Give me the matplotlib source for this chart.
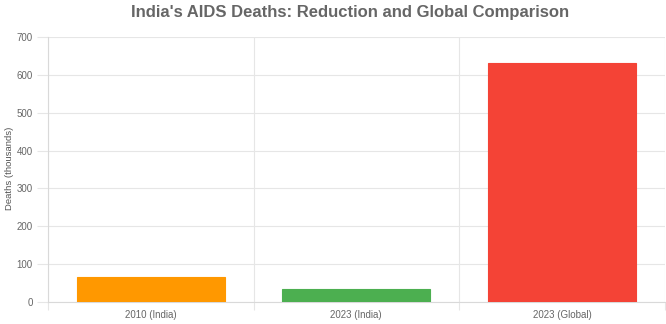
import matplotlib
matplotlib.use("Agg")
import matplotlib.pyplot as plt
import numpy as np

plt.rcParams['font.family'] = ['Liberation Sans', 'DejaVu Sans']

labels = ['2010 (India)', '2023 (India)', '2023 (Global)']
deaths = [66, 33, 630]
colors = ['#FF9800', '#4CAF50', '#F44336']

grid_c = '#e6e6e6'
text_c = '#666666'

fig = plt.figure(figsize=(6.66, 3.24), dpi=100)
ax = fig.add_axes([0.072, 0.068, 0.926, 0.818])

x = np.arange(len(labels))
ax.bar(x, deaths, width=0.72, color=colors, edgecolor=colors, linewidth=0.8, zorder=3)

ax.set_xlim(-0.5, 2.5)
ax.set_ylim(0, 700)
ax.set_yticks(range(0, 701, 100))
ax.set_xticks(x)
ax.set_xticklabels(labels)

# category separators drawn as minor ticks so they extend below the axis
ax.set_xticks([-0.5, 0.5, 1.5, 2.5], minor=True)
ax.grid(axis='x', which='minor', color=grid_c, linewidth=0.8, zorder=0)
ax.grid(axis='y', which='major', color=grid_c, linewidth=0.8, zorder=0)
ax.tick_params(axis='x', which='major', length=0, pad=6, labelsize=7, labelcolor=text_c)
ax.tick_params(axis='x', which='minor', length=6, color=grid_c, width=0.8)
ax.tick_params(axis='y', length=8, color=grid_c, width=0.8, pad=3, labelsize=7, labelcolor=text_c)

for side in ['top', 'right']:
    ax.spines[side].set_visible(False)
ax.spines['left'].set_color('#d9d9d9')
ax.spines['bottom'].set_color('#d9d9d9')

fig.text(0.014, 0.481, 'Deaths (thousands)', rotation=90, ha='center', va='center',
         fontsize=6.8, color='#555555')
fig.suptitle("India's AIDS Deaths: Reduction and Global Comparison",
             x=0.525, y=0.985, fontsize=12, fontweight='bold', color=text_c)

fig.savefig('out.png', dpi=100)
